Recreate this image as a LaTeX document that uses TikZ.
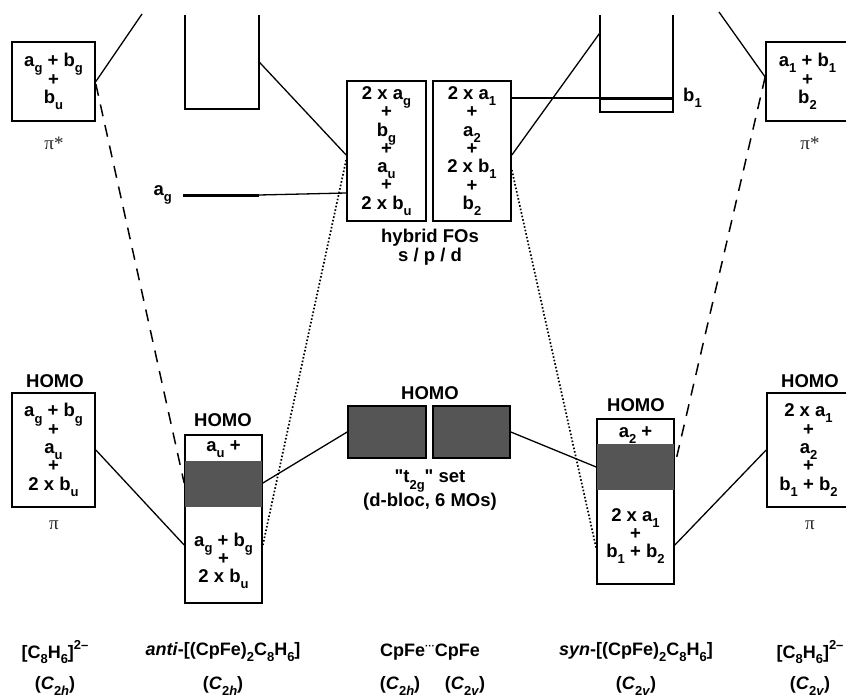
\documentclass[tikz,border=0pt]{standalone}
\usepackage{fontspec}
\setmainfont{Liberation Sans}[Ligatures=TeXOff]
\newfontfamily\pifont{Liberation Serif}
\usetikzlibrary{positioning, calc}
\definecolor{homogrey}{RGB}{85,85,85}
\definecolor{pigrey}{RGB}{40,40,40}
\newcommand{\dn}[1]{\raisebox{-0.33em}{\fontsize{13}{13}\selectfont #1}}
\newcommand{\hi}[1]{\raisebox{0.5em}{\fontsize{13}{13}\selectfont #1}}
\protected\def\tightlines{\lineskiplimit=-100pt\relax\lineskip=0pt\relax}

\begin{document}
\begin{tikzpicture}[x=1pt, y=-1pt,
  mo/.style={draw, line width=1.7pt, inner sep=0pt, align=center, font=\bfseries\fontsize{18.5}{18.3}\selectfont\tightlines},
  motxt/.style={inner sep=0pt, align=center, font=\bfseries\fontsize{18.5}{18.3}\selectfont\tightlines},
  lab/.style={inner sep=0pt, align=center, font=\bfseries\fontsize{18.5}{18.5}\selectfont},
  molab/.style={inner sep=0pt, align=center, font=\bfseries\fontsize{18}{18}\selectfont},
  pilab/.style={inner sep=0pt, text=pigrey, font=\pifont\fontsize{19}{19}\selectfont},
  band/.style={line width=1.7pt},
  lvl/.style={line width=3pt},
  conn/.style={line width=1.3pt},
  dashconn/.style={line width=1.5pt, dash pattern=on 12pt off 9pt},
  dotconn/.style={line width=1.7pt, dash pattern=on 1.6pt off 2pt},
]
  \useasboundingbox (0,0) rectangle (846,699);

  % upper part: pi* fragments, empty bands, hybrid FOs
  \node[mo, minimum width=83, minimum height=79] (pisL) at (53.5,81.5) {a\dn{g} + b\dn{g}\\+\\b\dn{u}};
  \node[pilab] (pisLlab) at (54,143) {π*};
  \node[mo, minimum width=83, minimum height=79] (pisR) at (807.5,81.5) {a\dn{1} + b\dn{1}\\+\\b\dn{2}};
  \node[pilab] (pisRlab) at (810,143) {π*};
  \coordinate (pisLtop) at (142,14);
  \coordinate (pisRtop) at (719,12);

  \node[inner sep=0pt, minimum width=74, minimum height=94] (bandL) at (222,62) {};
  \draw[band] (bandL.north west) |- (bandL.south east) -- (bandL.north east);
  \node[inner sep=0pt, minimum width=73, minimum height=97] (bandR) at (636.5,63.5) {};
  \draw[band] (bandR.north west) |- (bandR.south east) -- (bandR.north east);

  \coordinate (aga) at (183,195);
  \coordinate (agb) at (259,195);
  \draw[lvl] (aga) -- (agb);
  \node[lab, left=11pt of aga] (aglab) {a\dn{g}};
  \coordinate (b1a) at (600,98);
  \coordinate (b1b) at (673,98);
  \draw[lvl] (b1a) -- (b1b);
  \node[lab, right=10pt of b1b] (b1lab) {b\dn{1}};

  \node[mo, minimum width=79, minimum height=140] (hybA) at (386.5,151) {2 x a\dn{g}\\+\\b\dn{g}\\+\\a\dn{u}\\+\\2 x b\dn{u}};
  \node[mo, minimum width=78, minimum height=140] (hybB) at (472,151) {2 x a\dn{1}\\+\\a\dn{2}\\+\\2 x b\dn{1}\\+\\b\dn{2}};
  \node[lab] (hyblab) at (430,238) {hybrid FOs};
  \node[lab] (spdlab) at (430,257) {s / p / d};

  % lower part: pi fragments, HOMO blocks, t2g set
  \node[lab] (homoL) at (55,381) {HOMO};
  \node[mo, minimum width=83, minimum height=114] (piL) at (53.5,450) {a\dn{g} + b\dn{g}\\+\\a\dn{u}\\+\\2 x b\dn{u}};
  \node[pilab] (piLlab) at (54,525) {π};
  \node[lab] (homoR) at (810,381) {HOMO};
  \node[mo, minimum width=83, minimum height=114] (piR) at (808.5,450) {2 x a\dn{1}\\+\\a\dn{2}\\+\\b\dn{1} + b\dn{2}};
  \node[pilab] (piRlab) at (810,525) {π};

  \node[mo, minimum width=77, minimum height=168] (anti) at (223.5,519) {};
  \fill[homogrey] ([xshift=0.85pt,yshift=-27pt]anti.north west) rectangle ([xshift=-0.85pt,yshift=-73pt]anti.north east);
  \node[lab] (homoA) at (223,420) {HOMO};
  \node[motxt] (antitop) at (223.5,449) {a\dn{u} +};
  \node[motxt] (antibot) at (223.5,561) {a\dn{g} + b\dn{g}\\+\\2 x b\dn{u}};

  \node[mo, minimum width=77, minimum height=165] (syn) at (635.5,501.5) {};
  \fill[homogrey] ([xshift=0.85pt,yshift=-26pt]syn.north west) rectangle ([xshift=-0.85pt,yshift=-72pt]syn.north east);
  \node[lab] (homoS) at (636,405) {HOMO};
  \node[motxt] (syntop) at (635.5,435) {a\dn{2} +};
  \node[motxt] (synbot) at (635.5,536) {2 x a\dn{1}\\+\\b\dn{1} + b\dn{2}};

  \node[mo, fill=homogrey, minimum width=78, minimum height=52] (t2gA) at (387,432) {};
  \node[mo, fill=homogrey, minimum width=77, minimum height=52] (t2gB) at (471.5,432) {};
  \node[lab] (homoT) at (430,393) {HOMO};
  \node[lab] (t2glab) at (430,481) {"t\dn{2g}" set};
  \node[lab] (dbloc) at (430,502) {(d-bloc, 6 MOs)};

  % connectors
  \draw[conn] (pisL.east) -- (pisLtop);
  \draw[conn] ([yshift=4.5pt]pisR.west) -- (pisRtop);
  \draw[conn] (bandL.east) -- ([yshift=-4pt]hybA.west);
  \draw[conn] (agb) -- ([yshift=-42pt]hybA.west);
  \draw[conn] ([yshift=53pt]hybB.east) -- (b1b);
  \draw[conn] ([yshift=-4pt]hybB.east) -- ([yshift=30.5pt]bandR.west);
  \draw[dashconn] ([yshift=-2.5pt]pisL.east) -- ([yshift=36pt]anti.west);
  \draw[dashconn] ([yshift=4.5pt]pisR.west) -- ([yshift=36.5pt]syn.east);
  \draw[dotconn] ([yshift=-9pt]hybA.west) -- ([yshift=-26pt]anti.east);
  \draw[dotconn] ([yshift=-19pt]hybB.east) -- ([yshift=-46.5pt]syn.west);
  \draw[conn] (piL.east) -- ([yshift=-26pt]anti.west);
  \draw[conn] ([yshift=36pt]anti.east) -- (t2gA.west);
  \draw[conn] (t2gB.east) -- ([yshift=34.5pt]syn.west);
  \draw[conn] (piR.west) -- ([yshift=-43.5pt]syn.east);

  % molecule names
  \node[molab] (c8l) at (55,652) {[C\dn{8}H\dn{6}]\hi{2–}};
  \node[molab] (c8lsym) at (55,686) {(\textit{C}\dn{2\textit{h}})};
  \node[molab] (antiname) at (223,652) {\textit{anti}-[(CpFe)\dn{2}C\dn{8}H\dn{6}]};
  \node[molab] (antisym) at (223,686) {(\textit{C}\dn{2\textit{h}})};
  \node[molab] (cpfe) at (430,652) {CpFe\raisebox{0.4em}{\fontsize{10}{10}\selectfont ···}CpFe};
  \node[molab] (cpfesymh) at (400,686) {(\textit{C}\dn{2\textit{h}})};
  \node[molab] (cpfesymv) at (465,686) {(\textit{C}\dn{2\textit{v}})};
  \node[molab] (synname) at (636,652) {\textit{syn}-[(CpFe)\dn{2}C\dn{8}H\dn{6}]};
  \node[molab] (synsym) at (636,686) {(\textit{C}\dn{2\textit{v}})};
  \node[molab] (c8r) at (810,652) {[C\dn{8}H\dn{6}]\hi{2–}};
  \node[molab] (c8rsym) at (810,686) {(\textit{C}\dn{2\textit{v}})};
\end{tikzpicture}
\end{document}
